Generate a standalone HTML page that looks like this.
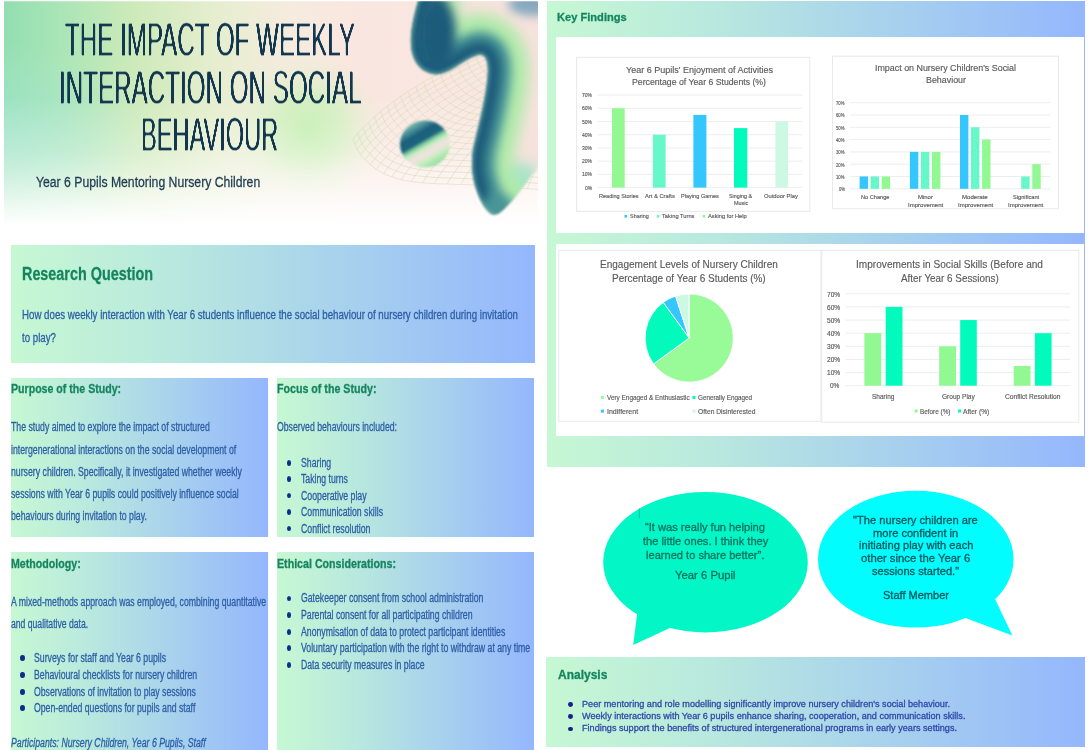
<!DOCTYPE html>
<html lang="en"><head><meta charset="utf-8"><title>The Impact of Weekly Interaction on Social Behaviour</title>
<style>
html,body{margin:0;padding:0;background:#fff}
body{width:1089px;height:750px;position:relative;overflow:hidden;font-family:"Liberation Sans",sans-serif}
.t{position:absolute;white-space:nowrap;transform-origin:0 0;line-height:1;margin:0;display:block}
.title{letter-spacing:0}
.t{-webkit-text-stroke:.3px currentColor;filter:blur(.3px)}
.title{-webkit-text-stroke:0;filter:none;text-shadow:.7px 0 0 currentColor,-.7px 0 0 currentColor}
.ct{filter:blur(.35px);-webkit-text-stroke:.15px currentColor}
.box{position:absolute;background:linear-gradient(90deg,#c6f8d3 0%,#b9e9de 30%,#a7d0ee 65%,#94b7fd 100%)}
.white{position:absolute;background:#fff}
.bu{position:absolute;width:4.6px;height:5.8px;border-radius:50%;background:#0b2f8f;display:block}
svg{position:absolute;left:0;top:0;overflow:visible}
</style></head><body>
<svg width="1089" height="750" viewBox="0 0 1089 750">
<defs>
<clipPath id="hc"><rect x="3.6" y="1.2" width="534.4" height="233"/></clipPath>
<linearGradient id="hg" x1="4" y1="0" x2="538" y2="0" gradientUnits="userSpaceOnUse">
<stop offset="0" stop-color="#92deb0"/><stop offset=".10" stop-color="#a8e5b6"/><stop offset=".24" stop-color="#cdeab9"/>
<stop offset=".40" stop-color="#e6eecf"/><stop offset=".54" stop-color="#f6ebdf"/><stop offset=".66" stop-color="#fae6e0"/><stop offset="1" stop-color="#fbe7e2"/></linearGradient>
<linearGradient id="hf" x1="0" y1="0" x2="0" y2="232" gradientUnits="userSpaceOnUse">
<stop offset="0" stop-color="#fff" stop-opacity="0"/><stop offset=".42" stop-color="#fff" stop-opacity="0"/><stop offset=".66" stop-color="#fff" stop-opacity=".30"/>
<stop offset=".80" stop-color="#fff" stop-opacity=".60"/><stop offset=".91" stop-color="#fff" stop-opacity=".88"/><stop offset=".975" stop-color="#fff" stop-opacity="1"/></linearGradient>
<radialGradient id="mint" cx="0" cy="135" r="150" gradientUnits="userSpaceOnUse" gradientTransform="translate(0 135) scale(1 .62) translate(0 -135)">
<stop offset="0" stop-color="#a2e4d0" stop-opacity=".75"/><stop offset=".55" stop-color="#a8e6d0" stop-opacity=".4"/><stop offset="1" stop-color="#b5ead0" stop-opacity="0"/></radialGradient>
<radialGradient id="glow" cx="308" cy="132" r="78" gradientUnits="userSpaceOnUse">
<stop offset="0" stop-color="#c0eeae" stop-opacity="1"/><stop offset=".45" stop-color="#cbf0b8" stop-opacity=".75"/><stop offset="1" stop-color="#e0f2cc" stop-opacity="0"/></radialGradient>
<linearGradient id="sph" x1="412" y1="122" x2="438" y2="167" gradientUnits="userSpaceOnUse">
<stop offset="0" stop-color="#8cc6b6"/><stop offset=".13" stop-color="#4d959b"/><stop offset=".26" stop-color="#1d607c"/><stop offset=".41" stop-color="#1f647e"/>
<stop offset=".48" stop-color="#7fd0a0"/><stop offset=".55" stop-color="#c5edc0"/><stop offset=".65" stop-color="#f6e0e2"/><stop offset=".76" stop-color="#d3ecc9"/>
<stop offset=".88" stop-color="#a6e6a8"/><stop offset="1" stop-color="#8fd3b6"/></linearGradient>
<clipPath id="bc"><path d="M420,-6 C414,14 409,34 411.5,50 C414,65 424,74 437,74.3 C450,74 462,60 478,55 C487,53 489,65 487.3,78.4 C486,95 480,120 474.8,141 C471,155 470,175 478,194.4 C482,205 488,214 493.6,214.7 C500,215 504,209 509.3,203.8 C518,195 530,178 544,158 L544,-6 Z"/></clipPath>
<filter id="b7" filterUnits="userSpaceOnUse" x="360" y="-60" width="240" height="340"><feGaussianBlur stdDeviation="7"/></filter>
<filter id="b4" filterUnits="userSpaceOnUse" x="360" y="-60" width="240" height="340"><feGaussianBlur stdDeviation="4.6"/></filter>
<filter id="thin" filterUnits="userSpaceOnUse" x="0" y="0" width="545" height="170" color-interpolation-filters="sRGB">
<feGaussianBlur stdDeviation="0 0.85"/><feComponentTransfer><feFuncA type="linear" slope="2.6" intercept="-1.38"/></feComponentTransfer>
</filter>
<filter id="b2" filterUnits="userSpaceOnUse" x="360" y="-60" width="240" height="340"><feGaussianBlur stdDeviation="1.6"/></filter>
<filter id="b1" filterUnits="userSpaceOnUse" x="360" y="-60" width="240" height="340"><feGaussianBlur stdDeviation=".8"/></filter>
</defs>
<g clip-path="url(#hc)">
<rect x="4" y="0" width="535" height="234" fill="url(#hg)"/>
<rect x="4" y="0" width="535" height="234" fill="url(#mint)"/>
<rect x="4" y="0" width="535" height="234" fill="url(#glow)"/>
<rect x="4" y="0" width="535" height="234" fill="url(#hf)"/>
<path d="M353.0,139.0 L354.6,143.3 L356.3,147.6 L358.5,151.6 L361.2,155.3 L364.3,158.7 L367.5,162.0 L370.9,165.1 L374.5,167.9 L378.3,170.5 L382.3,172.8 L386.5,174.7 L390.7,176.4 L395.0,177.9 L399.4,179.2 L403.9,180.3 L408.4,181.1 L413.0,181.8 L417.5,182.3 L422.1,182.8 L426.7,183.1 L431.3,183.4 L435.8,183.7 L440.4,183.9 L445.0,184.0 L449.6,184.1 L454.2,184.3 L458.8,184.4 L463.4,184.6 L468.0,184.7 L472.6,185.0 L477.1,185.2 L481.7,185.5 L486.3,185.8 L490.9,186.1 L495.5,186.4 L500.0,186.7 L504.6,187.1 L509.2,187.4 L513.8,187.7 L518.4,188.0 L522.9,188.3 L527.5,188.7 L532.1,189.0 L536.7,189.3 L541.3,189.6 L545.9,189.9 L550.4,190.2 L555.0,190.5 L559.6,190.8 L564.2,191.1 L568.8,191.4 L573.3,191.7 L577.9,192.0 L582.5,192.2 L587.1,192.5 L591.7,192.8 L596.3,193.1 L600.8,193.4 L605.4,193.7 L610.0,194.0 M357.9,133.3 L359.4,137.6 L361.1,141.8 L363.3,145.8 L366.0,149.4 L369.0,152.8 L372.1,156.1 L375.5,159.1 L379.1,161.9 L382.8,164.5 L386.7,166.7 L390.8,168.7 L395.0,170.3 L399.3,171.9 L403.6,173.2 L408.0,174.2 L412.5,175.1 L417.0,175.7 L421.5,176.3 L426.0,176.7 L430.5,177.1 L435.0,177.4 L439.5,177.7 L444.1,177.9 L448.6,178.0 L453.1,178.1 L457.6,178.3 L462.2,178.4 L466.7,178.6 L471.2,178.8 L475.7,179.0 L480.3,179.3 L484.8,179.6 L489.3,179.9 L493.8,180.2 L498.3,180.5 L502.8,180.8 L507.4,181.1 L511.9,181.4 L516.4,181.8 L520.9,182.1 L525.4,182.4 L530.0,182.8 L534.5,183.1 L539.0,183.4 L543.5,183.7 L548.0,184.0 L552.5,184.3 L557.1,184.6 L561.6,184.9 L566.1,185.2 L570.6,185.5 L575.1,185.8 L579.7,186.1 L584.2,186.4 L588.7,186.7 L593.2,187.0 L597.7,187.3 L602.3,187.6 L606.8,187.9 L611.3,188.2 M363.1,127.7 L364.6,131.9 L366.2,136.1 L368.4,140.0 L371.0,143.6 L374.0,147.0 L377.1,150.3 L380.4,153.3 L383.9,156.0 L387.6,158.6 L391.5,160.8 L395.5,162.7 L399.7,164.4 L403.9,165.9 L408.2,167.2 L412.5,168.2 L416.9,169.1 L421.3,169.8 L425.7,170.3 L430.2,170.7 L434.6,171.1 L439.1,171.5 L443.5,171.7 L448.0,171.9 L452.5,172.1 L456.9,172.2 L461.4,172.3 L465.8,172.5 L470.3,172.7 L474.8,172.9 L479.2,173.1 L483.7,173.4 L488.1,173.7 L492.6,174.0 L497.0,174.3 L501.5,174.6 L505.9,174.9 L510.4,175.3 L514.8,175.6 L519.3,175.9 L523.8,176.3 L528.2,176.6 L532.7,176.9 L537.1,177.3 L541.6,177.6 L546.0,177.9 L550.5,178.2 L554.9,178.5 L559.4,178.8 L563.8,179.1 L568.3,179.4 L572.7,179.7 L577.2,180.0 L581.7,180.4 L586.1,180.7 L590.6,181.0 L595.0,181.3 L599.5,181.6 L603.9,181.9 L608.4,182.2 L612.8,182.5 M368.6,122.2 L370.1,126.4 L371.7,130.5 L373.8,134.4 L376.4,138.0 L379.3,141.3 L382.4,144.5 L385.6,147.5 L389.1,150.2 L392.8,152.8 L396.6,155.0 L400.5,156.9 L404.6,158.5 L408.8,160.0 L413.0,161.3 L417.3,162.4 L421.6,163.2 L425.9,163.9 L430.3,164.4 L434.7,164.9 L439.1,165.3 L443.4,165.6 L447.8,165.9 L452.2,166.1 L456.6,166.2 L461.0,166.4 L465.4,166.5 L469.8,166.7 L474.2,166.9 L478.6,167.1 L483.0,167.3 L487.4,167.6 L491.8,167.9 L496.2,168.2 L500.5,168.5 L504.9,168.9 L509.3,169.2 L513.7,169.5 L518.1,169.9 L522.5,170.2 L526.9,170.5 L531.2,170.9 L535.6,171.2 L540.0,171.5 L544.4,171.9 L548.8,172.2 L553.2,172.5 L557.6,172.8 L562.0,173.1 L566.3,173.4 L570.7,173.7 L575.1,174.1 L579.5,174.4 L583.9,174.7 L588.3,175.0 L592.7,175.3 L597.1,175.6 L601.4,175.9 L605.8,176.2 L610.2,176.5 L614.6,176.9 M374.5,116.8 L375.9,120.9 L377.5,125.0 L379.6,128.9 L382.2,132.4 L385.0,135.7 L388.0,138.9 L391.2,141.9 L394.6,144.5 L398.2,147.0 L401.9,149.3 L405.9,151.1 L409.9,152.8 L414.0,154.3 L418.1,155.5 L422.3,156.6 L426.6,157.4 L430.9,158.1 L435.2,158.7 L439.5,159.1 L443.8,159.5 L448.1,159.8 L452.4,160.1 L456.7,160.3 L461.1,160.5 L465.4,160.6 L469.7,160.8 L474.1,161.0 L478.4,161.1 L482.7,161.4 L487.0,161.6 L491.4,161.9 L495.7,162.2 L500.0,162.5 L504.3,162.8 L508.6,163.2 L512.9,163.5 L517.3,163.9 L521.6,164.2 L525.9,164.5 L530.2,164.9 L534.5,165.2 L538.9,165.6 L543.2,165.9 L547.5,166.2 L551.8,166.6 L556.1,166.9 L560.4,167.2 L564.8,167.5 L569.1,167.8 L573.4,168.1 L577.7,168.5 L582.0,168.8 L586.4,169.1 L590.7,169.4 L595.0,169.7 L599.3,170.0 L603.6,170.4 L608.0,170.7 L612.3,171.0 L616.6,171.3 M380.6,111.5 L382.1,115.6 L383.6,119.7 L385.6,123.5 L388.2,127.0 L391.0,130.2 L393.9,133.4 L397.1,136.3 L400.4,139.0 L403.9,141.4 L407.6,143.6 L411.5,145.5 L415.4,147.1 L419.5,148.6 L423.5,149.9 L427.7,150.9 L431.9,151.7 L436.1,152.4 L440.3,153.0 L444.5,153.4 L448.8,153.8 L453.0,154.2 L457.3,154.5 L461.5,154.7 L465.8,154.8 L470.1,155.0 L474.3,155.1 L478.6,155.3 L482.8,155.5 L487.1,155.7 L491.3,156.0 L495.6,156.3 L499.8,156.6 L504.1,156.9 L508.3,157.3 L512.6,157.6 L516.8,157.9 L521.1,158.3 L525.3,158.6 L529.6,159.0 L533.8,159.3 L538.1,159.7 L542.3,160.0 L546.6,160.3 L550.8,160.7 L555.1,161.0 L559.3,161.3 L563.6,161.7 L567.8,162.0 L572.1,162.3 L576.3,162.6 L580.6,163.0 L584.8,163.3 L589.1,163.6 L593.3,163.9 L597.6,164.2 L601.8,164.6 L606.1,164.9 L610.3,165.2 L614.6,165.5 L618.8,165.8 M387.1,106.3 L388.5,110.4 L390.0,114.4 L392.0,118.1 L394.5,121.6 L397.2,124.8 L400.1,127.9 L403.2,130.8 L406.5,133.5 L410.0,135.9 L413.6,138.1 L417.4,139.9 L421.3,141.5 L425.2,143.0 L429.2,144.3 L433.3,145.3 L437.4,146.1 L441.6,146.8 L445.7,147.4 L449.9,147.8 L454.1,148.2 L458.2,148.6 L462.4,148.9 L466.6,149.1 L470.8,149.3 L475.0,149.4 L479.1,149.6 L483.3,149.8 L487.5,150.0 L491.7,150.2 L495.9,150.5 L500.1,150.8 L504.2,151.1 L508.4,151.4 L512.6,151.7 L516.8,152.1 L521.0,152.4 L525.1,152.8 L529.3,153.1 L533.5,153.5 L537.7,153.8 L541.8,154.2 L546.0,154.5 L550.2,154.9 L554.4,155.2 L558.5,155.5 L562.7,155.9 L566.9,156.2 L571.1,156.5 L575.3,156.9 L579.4,157.2 L583.6,157.5 L587.8,157.8 L592.0,158.2 L596.1,158.5 L600.3,158.8 L604.5,159.1 L608.7,159.5 L612.9,159.8 L617.0,160.1 L621.2,160.4 M393.8,101.3 L395.2,105.2 L396.7,109.2 L398.6,112.9 L401.1,116.3 L403.8,119.5 L406.6,122.6 L409.6,125.5 L412.9,128.1 L416.3,130.5 L419.8,132.6 L423.6,134.4 L427.4,136.1 L431.2,137.5 L435.2,138.8 L439.2,139.8 L443.2,140.6 L447.3,141.3 L451.4,141.8 L455.5,142.3 L459.6,142.7 L463.7,143.1 L467.8,143.4 L471.9,143.6 L476.0,143.8 L480.1,143.9 L484.2,144.1 L488.3,144.3 L492.5,144.5 L496.6,144.7 L500.7,145.0 L504.8,145.3 L508.9,145.6 L513.0,146.0 L517.1,146.3 L521.2,146.7 L525.3,147.0 L529.4,147.4 L533.5,147.7 L537.6,148.1 L541.7,148.4 L545.8,148.8 L549.9,149.1 L554.0,149.5 L558.1,149.8 L562.2,150.2 L566.3,150.5 L570.4,150.8 L574.6,151.2 L578.7,151.5 L582.8,151.8 L586.9,152.2 L591.0,152.5 L595.1,152.8 L599.2,153.1 L603.3,153.5 L607.4,153.8 L611.5,154.1 L615.6,154.5 L619.7,154.8 L623.8,155.1 M400.9,96.3 L402.2,100.2 L403.6,104.1 L405.5,107.8 L407.9,111.1 L410.6,114.3 L413.3,117.3 L416.3,120.2 L419.5,122.7 L422.8,125.1 L426.3,127.3 L430.0,129.1 L433.7,130.6 L437.5,132.1 L441.4,133.3 L445.3,134.4 L449.3,135.2 L453.3,135.9 L457.3,136.4 L461.3,136.9 L465.3,137.3 L469.4,137.6 L473.4,137.9 L477.4,138.2 L481.5,138.4 L485.5,138.5 L489.6,138.7 L493.6,138.9 L497.6,139.1 L501.7,139.4 L505.7,139.6 L509.7,139.9 L513.8,140.3 L517.8,140.6 L521.8,140.9 L525.8,141.3 L529.9,141.6 L533.9,142.0 L537.9,142.4 L542.0,142.7 L546.0,143.1 L550.0,143.4 L554.0,143.8 L558.1,144.1 L562.1,144.5 L566.1,144.8 L570.2,145.2 L574.2,145.5 L578.2,145.9 L582.3,146.2 L586.3,146.5 L590.3,146.9 L594.3,147.2 L598.4,147.5 L602.4,147.9 L606.4,148.2 L610.5,148.5 L614.5,148.9 L618.5,149.2 L622.6,149.5 L626.6,149.9 M408.1,91.4 L409.4,95.2 L410.9,99.1 L412.7,102.7 L415.1,106.0 L417.6,109.2 L420.4,112.1 L423.3,114.9 L426.4,117.5 L429.7,119.8 L433.1,122.0 L436.7,123.7 L440.3,125.3 L444.1,126.7 L447.9,128.0 L451.7,129.0 L455.6,129.8 L459.5,130.5 L463.5,131.0 L467.4,131.5 L471.4,131.9 L475.3,132.3 L479.3,132.6 L483.2,132.8 L487.2,133.0 L491.1,133.2 L495.1,133.4 L499.1,133.6 L503.0,133.8 L507.0,134.0 L510.9,134.3 L514.9,134.6 L518.8,135.0 L522.8,135.3 L526.8,135.7 L530.7,136.0 L534.7,136.4 L538.6,136.7 L542.6,137.1 L546.5,137.4 L550.5,137.8 L554.4,138.2 L558.4,138.5 L562.3,138.9 L566.3,139.2 L570.2,139.6 L574.2,139.9 L578.1,140.3 L582.1,140.6 L586.0,141.0 L590.0,141.3 L593.9,141.6 L597.9,142.0 L601.9,142.3 L605.8,142.7 L609.8,143.0 L613.7,143.3 L617.7,143.7 L621.6,144.0 L625.6,144.3 L629.5,144.7 M415.7,86.5 L417.0,90.4 L418.3,94.2 L420.2,97.7 L422.4,101.0 L425.0,104.1 L427.6,107.0 L430.5,109.8 L433.6,112.3 L436.7,114.6 L440.1,116.7 L443.6,118.5 L447.2,120.1 L450.9,121.5 L454.6,122.7 L458.4,123.7 L462.2,124.5 L466.0,125.2 L469.9,125.7 L473.7,126.2 L477.6,126.6 L481.5,127.0 L485.4,127.3 L489.2,127.5 L493.1,127.7 L497.0,127.9 L500.9,128.1 L504.8,128.3 L508.6,128.5 L512.5,128.8 L516.4,129.1 L520.3,129.4 L524.2,129.7 L528.0,130.1 L531.9,130.4 L535.8,130.8 L539.6,131.1 L543.5,131.5 L547.4,131.9 L551.3,132.2 L555.1,132.6 L559.0,133.0 L562.9,133.3 L566.8,133.7 L570.6,134.0 L574.5,134.4 L578.4,134.7 L582.3,135.1 L586.1,135.4 L590.0,135.8 L593.9,136.1 L597.8,136.5 L601.6,136.8 L605.5,137.2 L609.4,137.5 L613.3,137.8 L617.1,138.2 L621.0,138.5 L624.9,138.9 L628.8,139.2 L632.6,139.5 M423.5,81.8 L424.7,85.6 L426.1,89.3 L427.9,92.8 L430.1,96.1 L432.5,99.1 L435.2,102.0 L438.0,104.7 L440.9,107.2 L444.1,109.5 L447.3,111.6 L450.8,113.3 L454.3,114.9 L457.9,116.2 L461.5,117.5 L465.2,118.5 L469.0,119.3 L472.7,119.9 L476.5,120.5 L480.3,121.0 L484.1,121.4 L487.9,121.7 L491.7,122.1 L495.5,122.3 L499.3,122.5 L503.1,122.7 L506.9,122.9 L510.7,123.1 L514.5,123.4 L518.3,123.6 L522.1,123.9 L525.9,124.2 L529.7,124.6 L533.5,124.9 L537.3,125.3 L541.0,125.6 L544.8,126.0 L548.6,126.4 L552.4,126.7 L556.2,127.1 L560.0,127.5 L563.8,127.8 L567.6,128.2 L571.4,128.6 L575.2,128.9 L579.0,129.3 L582.8,129.6 L586.6,130.0 L590.4,130.3 L594.2,130.7 L598.0,131.0 L601.8,131.4 L605.6,131.7 L609.3,132.1 L613.1,132.4 L616.9,132.7 L620.7,133.1 L624.5,133.4 L628.3,133.8 L632.1,134.1 L635.9,134.5 M431.6,77.1 L432.8,80.8 L434.1,84.5 L435.8,88.0 L438.0,91.2 L440.4,94.2 L442.9,97.0 L445.7,99.7 L448.6,102.2 L451.6,104.4 L454.8,106.5 L458.2,108.2 L461.7,109.7 L465.2,111.1 L468.7,112.3 L472.3,113.3 L476.0,114.1 L479.7,114.8 L483.4,115.3 L487.1,115.8 L490.8,116.2 L494.5,116.6 L498.2,116.9 L501.9,117.2 L505.6,117.4 L509.4,117.6 L513.1,117.8 L516.8,118.0 L520.5,118.2 L524.2,118.5 L528.0,118.8 L531.7,119.1 L535.4,119.4 L539.1,119.8 L542.8,120.2 L546.5,120.5 L550.2,120.9 L553.9,121.3 L557.7,121.6 L561.4,122.0 L565.1,122.4 L568.8,122.7 L572.5,123.1 L576.2,123.5 L579.9,123.8 L583.6,124.2 L587.4,124.5 L591.1,124.9 L594.8,125.3 L598.5,125.6 L602.2,126.0 L605.9,126.3 L609.6,126.7 L613.3,127.0 L617.1,127.4 L620.8,127.7 L624.5,128.1 L628.2,128.4 L631.9,128.7 L635.6,129.1 L639.3,129.4 M439.9,72.5 L441.1,76.2 L442.3,79.8 L444.0,83.2 L446.1,86.4 L448.5,89.3 L451.0,92.1 L453.6,94.8 L456.5,97.2 L459.5,99.4 L462.6,101.4 L465.9,103.1 L469.2,104.6 L472.7,106.0 L476.1,107.2 L479.7,108.2 L483.2,109.0 L486.8,109.6 L490.5,110.2 L494.1,110.7 L497.7,111.1 L501.3,111.5 L505.0,111.8 L508.6,112.1 L512.2,112.3 L515.9,112.5 L519.5,112.7 L523.1,112.9 L526.8,113.1 L530.4,113.4 L534.0,113.7 L537.7,114.0 L541.3,114.4 L544.9,114.7 L548.6,115.1 L552.2,115.5 L555.8,115.8 L559.4,116.2 L563.1,116.6 L566.7,117.0 L570.3,117.3 L574.0,117.7 L577.6,118.1 L581.2,118.4 L584.8,118.8 L588.5,119.2 L592.1,119.5 L595.7,119.9 L599.4,120.2 L603.0,120.6 L606.6,120.9 L610.3,121.3 L613.9,121.7 L617.5,122.0 L621.1,122.4 L624.8,122.7 L628.4,123.1 L632.0,123.4 L635.7,123.8 L639.3,124.1 L642.9,124.5 M448.5,68.0 L449.6,71.6 L450.8,75.1 L452.4,78.5 L454.5,81.6 L456.8,84.5 L459.2,87.3 L461.8,89.9 L464.6,92.3 L467.5,94.5 L470.6,96.4 L473.8,98.1 L477.1,99.6 L480.4,101.0 L483.8,102.1 L487.2,103.1 L490.7,103.9 L494.2,104.6 L497.8,105.1 L501.3,105.6 L504.8,106.0 L508.4,106.4 L511.9,106.7 L515.5,107.0 L519.0,107.2 L522.6,107.4 L526.1,107.6 L529.7,107.9 L533.2,108.1 L536.8,108.4 L540.3,108.7 L543.9,109.0 L547.4,109.4 L551.0,109.7 L554.5,110.1 L558.1,110.5 L561.6,110.8 L565.1,111.2 L568.7,111.6 L572.2,112.0 L575.8,112.3 L579.3,112.7 L582.9,113.1 L586.4,113.5 L589.9,113.8 L593.5,114.2 L597.0,114.5 L600.6,114.9 L604.1,115.3 L607.7,115.6 L611.2,116.0 L614.7,116.3 L618.3,116.7 L621.8,117.0 L625.4,117.4 L628.9,117.8 L632.5,118.1 L636.0,118.5 L639.6,118.8 L643.1,119.2 L646.6,119.5 M457.3,63.5 L458.4,67.0 L459.6,70.5 L461.1,73.9 L463.1,76.9 L465.4,79.8 L467.7,82.5 L470.3,85.1 L473.0,87.4 L475.8,89.6 L478.8,91.5 L481.9,93.2 L485.1,94.6 L488.4,96.0 L491.7,97.1 L495.0,98.1 L498.4,98.9 L501.9,99.5 L505.3,100.1 L508.8,100.6 L512.2,101.0 L515.7,101.4 L519.1,101.7 L522.6,102.0 L526.1,102.2 L529.5,102.4 L533.0,102.6 L536.4,102.9 L539.9,103.1 L543.4,103.4 L546.8,103.7 L550.3,104.0 L553.7,104.4 L557.2,104.7 L560.7,105.1 L564.1,105.5 L567.6,105.9 L571.0,106.2 L574.5,106.6 L577.9,107.0 L581.4,107.4 L584.8,107.8 L588.3,108.1 L591.8,108.5 L595.2,108.9 L598.7,109.2 L602.1,109.6 L605.6,110.0 L609.0,110.3 L612.5,110.7 L615.9,111.1 L619.4,111.4 L622.9,111.8 L626.3,112.1 L629.8,112.5 L633.2,112.8 L636.7,113.2 L640.1,113.6 L643.6,113.9 L647.1,114.3 L650.5,114.6 M466.4,59.1 L467.4,62.6 L468.6,66.0 L470.1,69.3 L472.0,72.2 L474.2,75.1 L476.5,77.7 L478.9,80.3 L481.6,82.6 L484.3,84.7 L487.2,86.6 L490.3,88.3 L493.4,89.7 L496.6,91.0 L499.8,92.2 L503.1,93.1 L506.4,93.9 L509.7,94.6 L513.1,95.1 L516.4,95.6 L519.8,96.0 L523.2,96.4 L526.5,96.7 L529.9,97.0 L533.3,97.2 L536.7,97.5 L540.0,97.7 L543.4,97.9 L546.8,98.2 L550.1,98.5 L553.5,98.8 L556.9,99.1 L560.3,99.5 L563.6,99.8 L567.0,100.2 L570.4,100.6 L573.7,100.9 L577.1,101.3 L580.5,101.7 L583.8,102.1 L587.2,102.5 L590.6,102.8 L593.9,103.2 L597.3,103.6 L600.7,104.0 L604.0,104.3 L607.4,104.7 L610.8,105.1 L614.1,105.4 L617.5,105.8 L620.9,106.2 L624.2,106.5 L627.6,106.9 L631.0,107.2 L634.3,107.6 L637.7,108.0 L641.1,108.3 L644.4,108.7 L647.8,109.1 L651.2,109.4 L654.5,109.8 M475.7,54.7 L476.7,58.1 L477.8,61.5 L479.3,64.7 L481.2,67.6 L483.3,70.4 L485.5,73.1 L487.9,75.5 L490.4,77.8 L493.1,79.9 L495.9,81.8 L498.9,83.4 L501.9,84.8 L505.0,86.1 L508.1,87.2 L511.3,88.2 L514.6,89.0 L517.8,89.6 L521.1,90.2 L524.3,90.6 L527.6,91.1 L530.9,91.4 L534.2,91.8 L537.4,92.1 L540.7,92.3 L544.0,92.5 L547.3,92.8 L550.6,93.0 L553.8,93.3 L557.1,93.6 L560.4,93.9 L563.7,94.2 L567.0,94.6 L570.2,94.9 L573.5,95.3 L576.8,95.7 L580.1,96.1 L583.3,96.4 L586.6,96.8 L589.9,97.2 L593.2,97.6 L596.4,98.0 L599.7,98.4 L603.0,98.7 L606.3,99.1 L609.5,99.5 L612.8,99.8 L616.1,100.2 L619.4,100.6 L622.7,100.9 L625.9,101.3 L629.2,101.7 L632.5,102.0 L635.8,102.4 L639.0,102.8 L642.3,103.1 L645.6,103.5 L648.9,103.9 L652.1,104.2 L655.4,104.6 L658.7,104.9 M485.3,50.4 L486.2,53.8 L487.3,57.1 L488.7,60.2 L490.5,63.1 L492.6,65.8 L494.7,68.4 L497.0,70.8 L499.5,73.1 L502.1,75.1 L504.8,77.0 L507.7,78.6 L510.7,80.0 L513.7,81.2 L516.7,82.4 L519.8,83.3 L522.9,84.1 L526.1,84.7 L529.3,85.3 L532.4,85.7 L535.6,86.2 L538.8,86.5 L542.0,86.9 L545.2,87.2 L548.4,87.4 L551.6,87.7 L554.7,87.9 L557.9,88.1 L561.1,88.4 L564.3,88.7 L567.5,89.0 L570.7,89.4 L573.9,89.7 L577.0,90.1 L580.2,90.4 L583.4,90.8 L586.6,91.2 L589.8,91.6 L593.0,92.0 L596.1,92.4 L599.3,92.7 L602.5,93.1 L605.7,93.5 L608.9,93.9 L612.1,94.3 L615.2,94.6 L618.4,95.0 L621.6,95.4 L624.8,95.8 L628.0,96.1 L631.2,96.5 L634.3,96.9 L637.5,97.2 L640.7,97.6 L643.9,97.9 L647.1,98.3 L650.3,98.7 L653.4,99.0 L656.6,99.4 L659.8,99.8 L663.0,100.1 M495.1,46.2 L496.0,49.5 L497.0,52.7 L498.4,55.8 L500.2,58.6 L502.1,61.2 L504.2,63.8 L506.4,66.2 L508.8,68.4 L511.4,70.4 L514.0,72.2 L516.8,73.8 L519.7,75.2 L522.6,76.4 L525.5,77.5 L528.5,78.4 L531.6,79.2 L534.6,79.8 L537.7,80.4 L540.8,80.9 L543.9,81.3 L546.9,81.7 L550.0,82.0 L553.1,82.3 L556.2,82.6 L559.3,82.8 L562.4,83.0 L565.5,83.3 L568.6,83.6 L571.7,83.9 L574.8,84.2 L577.9,84.5 L581.0,84.9 L584.1,85.2 L587.1,85.6 L590.2,86.0 L593.3,86.4 L596.4,86.8 L599.5,87.2 L602.6,87.5 L605.7,87.9 L608.8,88.3 L611.8,88.7 L614.9,89.1 L618.0,89.5 L621.1,89.8 L624.2,90.2 L627.3,90.6 L630.4,91.0 L633.5,91.3 L636.5,91.7 L639.6,92.1 L642.7,92.4 L645.8,92.8 L648.9,93.2 L652.0,93.5 L655.1,93.9 L658.2,94.3 L661.3,94.6 L664.3,95.0 L667.4,95.4 M505.2,42.0 L506.1,45.2 L507.0,48.4 L508.3,51.4 L510.0,54.1 L511.9,56.7 L513.9,59.2 L516.1,61.6 L518.4,63.7 L520.8,65.7 L523.4,67.5 L526.1,69.0 L528.9,70.4 L531.7,71.6 L534.6,72.7 L537.5,73.6 L540.4,74.4 L543.4,75.0 L546.3,75.6 L549.3,76.0 L552.3,76.4 L555.3,76.8 L558.3,77.2 L561.3,77.5 L564.3,77.7 L567.3,78.0 L570.3,78.2 L573.3,78.5 L576.3,78.7 L579.3,79.0 L582.3,79.4 L585.3,79.7 L588.3,80.1 L591.2,80.4 L594.2,80.8 L597.2,81.2 L600.2,81.6 L603.2,82.0 L606.2,82.4 L609.2,82.8 L612.2,83.1 L615.2,83.5 L618.2,83.9 L621.2,84.3 L624.1,84.7 L627.1,85.1 L630.1,85.4 L633.1,85.8 L636.1,86.2 L639.1,86.5 L642.1,86.9 L645.1,87.3 L648.1,87.7 L651.1,88.0 L654.1,88.4 L657.1,88.8 L660.0,89.1 L663.0,89.5 L666.0,89.9 L669.0,90.2 L672.0,90.6 M353.0,139.0 L356.0,135.4 L359.1,131.9 L362.3,128.5 L365.6,125.1 L369.0,121.9 L372.4,118.7 L375.9,115.6 L379.4,112.5 L383.1,109.5 L386.7,106.6 L390.4,103.8 L394.2,101.0 L398.0,98.2 L401.9,95.6 L405.7,92.9 L409.7,90.4 L413.6,87.8 L417.6,85.4 L421.6,82.9 L425.6,80.5 L429.7,78.2 L433.7,75.9 L437.8,73.6 L442.0,71.4 L446.1,69.2 L450.3,67.1 L454.4,64.9 L458.6,62.8 L462.9,60.8 L467.1,58.8 L471.3,56.8 L475.6,54.8 L479.8,52.9 L484.1,50.9 L488.4,49.1 L492.7,47.2 L497.0,45.4 L501.3,43.6 L505.7,41.8 L510.0,40.0 M354.8,144.1 L357.8,140.4 L360.9,136.9 L364.1,133.5 L367.4,130.1 L370.7,126.8 L374.1,123.6 L377.6,120.4 L381.1,117.3 L384.7,114.3 L388.4,111.4 L392.1,108.5 L395.8,105.7 L399.6,102.9 L403.4,100.2 L407.3,97.5 L411.2,94.9 L415.1,92.4 L419.0,89.9 L423.0,87.4 L427.0,85.0 L431.1,82.6 L435.1,80.3 L439.2,78.0 L443.3,75.7 L447.4,73.5 L451.6,71.3 L455.7,69.1 L459.9,67.0 L464.1,64.9 L468.3,62.8 L472.5,60.8 L476.7,58.8 L481.0,56.8 L485.2,54.9 L489.5,53.0 L493.8,51.1 L498.1,49.2 L502.4,47.4 L506.7,45.5 L511.0,43.7 M357.2,149.4 L360.1,145.7 L363.2,142.2 L366.3,138.7 L369.6,135.3 L372.9,131.9 L376.3,128.7 L379.7,125.5 L383.3,122.4 L386.8,119.3 L390.4,116.4 L394.1,113.5 L397.8,110.6 L401.6,107.8 L405.4,105.0 L409.2,102.4 L413.1,99.7 L417.0,97.1 L420.9,94.6 L424.9,92.1 L428.9,89.6 L432.9,87.2 L436.9,84.8 L441.0,82.5 L445.0,80.2 L449.1,77.9 L453.2,75.7 L457.4,73.5 L461.5,71.4 L465.7,69.2 L469.8,67.1 L474.0,65.1 L478.2,63.0 L482.4,61.0 L486.7,59.0 L490.9,57.1 L495.2,55.2 L499.4,53.3 L503.7,51.4 L508.0,49.5 L512.3,47.7 M360.7,154.6 L363.6,150.9 L366.6,147.3 L369.7,143.7 L372.9,140.3 L376.2,136.9 L379.6,133.7 L383.0,130.4 L386.5,127.3 L390.0,124.2 L393.6,121.2 L397.2,118.3 L400.9,115.4 L404.6,112.5 L408.4,109.8 L412.2,107.0 L416.0,104.4 L419.9,101.7 L423.8,99.2 L427.7,96.6 L431.7,94.1 L435.6,91.7 L439.6,89.3 L443.7,86.9 L447.7,84.6 L451.7,82.3 L455.8,80.0 L459.9,77.8 L464.0,75.6 L468.2,73.5 L472.3,71.3 L476.4,69.2 L480.6,67.1 L484.8,65.1 L489.0,63.1 L493.2,61.1 L497.4,59.1 L501.6,57.2 L505.9,55.3 L510.1,53.4 L514.4,51.5 M365.1,159.6 L368.0,155.9 L371.0,152.2 L374.0,148.7 L377.2,145.2 L380.4,141.8 L383.8,138.5 L387.1,135.3 L390.6,132.1 L394.1,129.0 L397.6,126.0 L401.2,123.0 L404.8,120.1 L408.5,117.2 L412.2,114.4 L416.0,111.6 L419.8,108.9 L423.6,106.3 L427.5,103.7 L431.3,101.1 L435.3,98.6 L439.2,96.1 L443.1,93.6 L447.1,91.2 L451.1,88.9 L455.1,86.6 L459.1,84.3 L463.2,82.0 L467.3,79.8 L471.3,77.6 L475.4,75.4 L479.6,73.3 L483.7,71.2 L487.8,69.1 L492.0,67.1 L496.1,65.0 L500.3,63.0 L504.5,61.1 L508.7,59.1 L512.9,57.2 L517.1,55.3 M370.3,164.6 L373.1,160.8 L376.1,157.2 L379.1,153.6 L382.2,150.1 L385.4,146.7 L388.7,143.3 L392.0,140.1 L395.4,136.9 L398.8,133.7 L402.3,130.7 L405.9,127.7 L409.5,124.7 L413.1,121.8 L416.8,119.0 L420.5,116.2 L424.2,113.4 L428.0,110.8 L431.8,108.1 L435.6,105.5 L439.5,103.0 L443.4,100.5 L447.3,98.0 L451.2,95.5 L455.1,93.2 L459.1,90.8 L463.1,88.5 L467.1,86.2 L471.1,83.9 L475.1,81.7 L479.2,79.5 L483.2,77.3 L487.3,75.2 L491.4,73.1 L495.5,71.0 L499.6,69.0 L503.7,66.9 L507.9,64.9 L512.0,62.9 L516.1,61.0 L520.3,59.0 M376.5,169.2 L379.3,165.5 L382.1,161.8 L385.1,158.2 L388.2,154.7 L391.3,151.2 L394.5,147.8 L397.8,144.5 L401.1,141.3 L404.5,138.2 L408.0,135.1 L411.5,132.0 L415.0,129.0 L418.6,126.1 L422.2,123.3 L425.8,120.4 L429.5,117.7 L433.2,115.0 L437.0,112.3 L440.7,109.7 L444.5,107.1 L448.4,104.5 L452.2,102.0 L456.1,99.6 L460.0,97.2 L463.9,94.8 L467.8,92.4 L471.7,90.1 L475.7,87.8 L479.7,85.6 L483.6,83.3 L487.7,81.1 L491.7,79.0 L495.7,76.8 L499.7,74.7 L503.8,72.6 L507.9,70.6 L511.9,68.5 L516.0,66.5 L520.1,64.5 L524.2,62.6 M383.7,173.4 L386.4,169.7 L389.2,166.0 L392.1,162.3 L395.1,158.8 L398.2,155.3 L401.3,151.9 L404.5,148.6 L407.8,145.4 L411.1,142.2 L414.5,139.0 L417.9,136.0 L421.4,133.0 L424.9,130.0 L428.5,127.2 L432.0,124.3 L435.7,121.5 L439.3,118.8 L443.0,116.1 L446.7,113.4 L450.4,110.8 L454.2,108.3 L458.0,105.7 L461.8,103.3 L465.6,100.8 L469.4,98.4 L473.3,96.0 L477.2,93.7 L481.0,91.4 L484.9,89.1 L488.9,86.8 L492.8,84.6 L496.8,82.4 L500.7,80.3 L504.7,78.1 L508.7,76.0 L512.7,73.9 L516.7,71.9 L520.7,69.8 L524.7,67.8 L528.8,65.8 M391.9,176.8 L394.6,173.0 L397.3,169.3 L400.2,165.7 L403.1,162.1 L406.1,158.6 L409.2,155.2 L412.3,151.9 L415.5,148.6 L418.8,145.4 L422.1,142.3 L425.4,139.2 L428.8,136.2 L432.2,133.2 L435.7,130.3 L439.2,127.5 L442.8,124.7 L446.3,121.9 L449.9,119.2 L453.6,116.5 L457.2,113.9 L460.9,111.3 L464.6,108.8 L468.3,106.3 L472.1,103.8 L475.9,101.4 L479.6,99.0 L483.4,96.6 L487.2,94.3 L491.1,92.0 L494.9,89.7 L498.8,87.5 L502.7,85.3 L506.5,83.1 L510.4,80.9 L514.3,78.8 L518.3,76.7 L522.2,74.6 L526.1,72.6 L530.1,70.5 L534.0,68.5 M401.2,179.7 L403.7,175.8 L406.4,172.1 L409.2,168.5 L412.0,164.9 L414.9,161.4 L417.9,158.0 L421.0,154.6 L424.1,151.4 L427.2,148.1 L430.5,145.0 L433.7,141.9 L437.0,138.9 L440.4,135.9 L443.8,133.0 L447.2,130.1 L450.7,127.3 L454.2,124.5 L457.7,121.8 L461.2,119.1 L464.8,116.5 L468.4,113.9 L472.0,111.4 L475.7,108.8 L479.3,106.4 L483.0,103.9 L486.7,101.5 L490.4,99.1 L494.2,96.8 L497.9,94.5 L501.7,92.2 L505.4,89.9 L509.2,87.7 L513.0,85.5 L516.8,83.3 L520.7,81.2 L524.5,79.1 L528.3,77.0 L532.2,74.9 L536.1,72.9 L539.9,70.8 M411.3,181.6 L413.8,177.7 L416.4,174.0 L419.1,170.4 L421.8,166.8 L424.6,163.3 L427.5,159.9 L430.5,156.5 L433.5,153.3 L436.6,150.0 L439.7,146.9 L442.9,143.8 L446.1,140.8 L449.4,137.8 L452.7,134.9 L456.0,132.0 L459.4,129.2 L462.8,126.4 L466.2,123.7 L469.7,121.0 L473.2,118.3 L476.7,115.7 L480.2,113.2 L483.8,110.7 L487.3,108.2 L490.9,105.7 L494.5,103.3 L498.1,100.9 L501.8,98.6 L505.4,96.3 L509.1,94.0 L512.8,91.7 L516.5,89.5 L520.2,87.3 L523.9,85.1 L527.7,82.9 L531.4,80.8 L535.2,78.7 L538.9,76.6 L542.7,74.6 L546.5,72.5 M422.4,182.8 L424.8,179.0 L427.3,175.2 L429.8,171.6 L432.5,168.0 L435.2,164.6 L438.0,161.1 L440.9,157.8 L443.8,154.5 L446.8,151.3 L449.8,148.2 L452.9,145.1 L456.0,142.0 L459.2,139.1 L462.4,136.1 L465.6,133.3 L468.9,130.4 L472.2,127.7 L475.5,124.9 L478.9,122.3 L482.3,119.6 L485.7,117.0 L489.1,114.5 L492.6,111.9 L496.0,109.5 L499.5,107.0 L503.0,104.6 L506.6,102.2 L510.1,99.9 L513.7,97.5 L517.2,95.2 L520.8,93.0 L524.4,90.7 L528.0,88.5 L531.6,86.4 L535.3,84.2 L538.9,82.1 L542.6,80.0 L546.2,77.9 L549.9,75.8 L553.6,73.8 M434.3,183.6 L436.6,179.8 L439.0,176.1 L441.5,172.5 L444.0,168.9 L446.6,165.4 L449.3,162.0 L452.1,158.7 L454.9,155.4 L457.8,152.2 L460.7,149.1 L463.7,146.0 L466.7,143.0 L469.8,140.0 L472.9,137.1 L476.0,134.2 L479.2,131.4 L482.4,128.6 L485.6,125.9 L488.8,123.2 L492.1,120.6 L495.4,118.0 L498.7,115.4 L502.1,112.9 L505.4,110.4 L508.8,108.0 L512.2,105.6 L515.6,103.2 L519.1,100.9 L522.5,98.5 L526.0,96.3 L529.5,94.0 L532.9,91.8 L536.4,89.6 L540.0,87.4 L543.5,85.2 L547.0,83.1 L550.6,81.0 L554.1,78.9 L557.7,76.9 L561.3,74.8 M447.2,184.1 L449.3,180.3 L451.6,176.6 L454.0,173.0 L456.4,169.4 L458.9,166.0 L461.5,162.6 L464.2,159.2 L466.9,156.0 L469.6,152.8 L472.5,149.7 L475.3,146.6 L478.2,143.6 L481.2,140.6 L484.2,137.7 L487.2,134.8 L490.2,132.0 L493.3,129.3 L496.4,126.6 L499.5,123.9 L502.7,121.3 L505.9,118.7 L509.1,116.1 L512.3,113.6 L515.6,111.1 L518.8,108.7 L522.1,106.3 L525.4,103.9 L528.7,101.6 L532.1,99.3 L535.4,97.0 L538.8,94.7 L542.1,92.5 L545.5,90.3 L548.9,88.1 L552.3,86.0 L555.7,83.9 L559.2,81.8 L562.6,79.7 L566.1,77.6 L569.5,75.6 M461.0,184.5 L463.1,180.7 L465.2,177.0 L467.4,173.4 L469.8,169.9 L472.2,166.4 L474.6,163.0 L477.2,159.7 L479.7,156.5 L482.4,153.3 L485.1,150.2 L487.8,147.1 L490.6,144.1 L493.4,141.1 L496.3,138.2 L499.2,135.4 L502.1,132.6 L505.0,129.9 L508.0,127.2 L511.0,124.5 L514.1,121.9 L517.1,119.3 L520.2,116.8 L523.3,114.2 L526.4,111.8 L529.6,109.3 L532.8,106.9 L535.9,104.6 L539.1,102.2 L542.3,99.9 L545.5,97.7 L548.8,95.4 L552.0,93.2 L555.3,91.0 L558.6,88.8 L561.8,86.7 L565.1,84.6 L568.4,82.5 L571.8,80.4 L575.1,78.4 L578.4,76.4 M475.8,185.2 L477.8,181.4 L479.8,177.7 L481.9,174.1 L484.1,170.6 L486.4,167.2 L488.7,163.8 L491.1,160.5 L493.6,157.3 L496.1,154.1 L498.6,151.0 L501.2,147.9 L503.9,144.9 L506.6,142.0 L509.3,139.1 L512.1,136.3 L514.9,133.5 L517.7,130.7 L520.5,128.0 L523.4,125.4 L526.3,122.8 L529.2,120.2 L532.2,117.7 L535.2,115.2 L538.1,112.7 L541.2,110.3 L544.2,107.9 L547.2,105.5 L550.3,103.2 L553.3,100.9 L556.4,98.6 L559.5,96.4 L562.6,94.2 L565.8,92.0 L568.9,89.8 L572.1,87.7 L575.2,85.6 L578.4,83.5 L581.6,81.4 L584.8,79.4 L588.0,77.4 M491.8,186.2 L493.6,182.4 L495.5,178.8 L497.4,175.2 L499.5,171.7 L501.6,168.3 L503.8,164.9 L506.1,161.6 L508.4,158.4 L510.8,155.2 L513.2,152.1 L515.6,149.1 L518.2,146.1 L520.7,143.1 L523.3,140.3 L525.9,137.4 L528.6,134.7 L531.2,131.9 L533.9,129.2 L536.7,126.6 L539.4,124.0 L542.2,121.4 L545.0,118.9 L547.9,116.4 L550.7,113.9 L553.6,111.5 L556.4,109.1 L559.3,106.8 L562.3,104.5 L565.2,102.2 L568.1,99.9 L571.1,97.7 L574.1,95.5 L577.0,93.3 L580.0,91.1 L583.0,89.0 L586.0,86.9 L589.1,84.8 L592.1,82.7 L595.2,80.7 L598.2,78.7 M508.9,187.4 L510.6,183.6 L512.3,180.0 L514.1,176.4 L516.0,172.9 L518.0,169.5 L520.1,166.1 L522.2,162.9 L524.3,159.6 L526.6,156.5 L528.8,153.4 L531.1,150.4 L533.5,147.4 L535.9,144.5 L538.3,141.6 L540.8,138.8 L543.3,136.0 L545.8,133.3 L548.4,130.6 L550.9,127.9 L553.6,125.4 L556.2,122.8 L558.8,120.3 L561.5,117.8 L564.2,115.3 L566.9,112.9 L569.6,110.5 L572.4,108.2 L575.1,105.9 L577.9,103.6 L580.7,101.3 L583.5,99.1 L586.3,96.9 L589.1,94.7 L592.0,92.5 L594.8,90.4 L597.7,88.3 L600.6,86.2 L603.4,84.2 L606.3,82.1 L609.2,80.1 M527.3,188.6 L528.8,184.9 L530.4,181.3 L532.1,177.7 L533.8,174.3 L535.6,170.8 L537.5,167.5 L539.5,164.2 L541.5,161.0 L543.5,157.9 L545.6,154.8 L547.8,151.8 L550.0,148.8 L552.2,145.9 L554.5,143.0 L556.8,140.2 L559.1,137.5 L561.5,134.7 L563.9,132.1 L566.3,129.4 L568.7,126.8 L571.2,124.3 L573.7,121.8 L576.2,119.3 L578.7,116.8 L581.3,114.4 L583.8,112.1 L586.4,109.7 L589.0,107.4 L591.6,105.1 L594.2,102.8 L596.8,100.6 L599.5,98.4 L602.2,96.2 L604.8,94.1 L607.5,92.0 L610.2,89.9 L612.9,87.8 L615.6,85.7 L618.3,83.7 L621.1,81.7 M547.1,190.0 L548.5,186.3 L549.9,182.6 L551.4,179.1 L552.9,175.6 L554.6,172.2 L556.3,168.9 L558.1,165.7 L559.9,162.5 L561.8,159.3 L563.7,156.3 L565.7,153.3 L567.7,150.3 L569.8,147.4 L571.9,144.5 L574.0,141.7 L576.1,139.0 L578.3,136.3 L580.5,133.6 L582.8,131.0 L585.0,128.4 L587.3,125.8 L589.6,123.3 L592.0,120.8 L594.3,118.4 L596.7,116.0 L599.1,113.6 L601.5,111.3 L603.9,109.0 L606.3,106.7 L608.7,104.4 L611.2,102.2 L613.7,100.0 L616.1,97.9 L618.6,95.7 L621.1,93.6 L623.6,91.5 L626.2,89.4 L628.7,87.4 L631.2,85.3 L633.8,83.3 M568.4,191.3 L569.6,187.7 L570.8,184.1 L572.1,180.5 L573.5,177.1 L575.0,173.7 L576.5,170.4 L578.1,167.1 L579.7,164.0 L581.4,160.8 L583.1,157.8 L584.9,154.8 L586.8,151.8 L588.6,148.9 L590.5,146.1 L592.5,143.3 L594.4,140.6 L596.4,137.9 L598.5,135.2 L600.5,132.6 L602.6,130.0 L604.7,127.5 L606.8,125.0 L608.9,122.5 L611.1,120.1 L613.3,117.7 L615.4,115.3 L617.6,113.0 L619.9,110.7 L622.1,108.4 L624.4,106.1 L626.6,103.9 L628.9,101.7 L631.2,99.6 L633.5,97.4 L635.8,95.3 L638.1,93.2 L640.4,91.1 L642.8,89.1 L645.1,87.1 L647.5,85.0 M591.3,192.8 L592.3,189.1 L593.3,185.6 L594.4,182.1 L595.6,178.6 L596.9,175.3 L598.2,172.0 L599.6,168.7 L601.0,165.6 L602.5,162.5 L604.0,159.4 L605.6,156.4 L607.2,153.5 L608.9,150.6 L610.6,147.8 L612.3,145.0 L614.1,142.3 L615.9,139.6 L617.7,136.9 L619.6,134.3 L621.4,131.7 L623.3,129.2 L625.2,126.7 L627.2,124.3 L629.1,121.8 L631.1,119.4 L633.1,117.1 L635.1,114.7 L637.1,112.5 L639.1,110.2 L641.1,107.9 L643.2,105.7 L645.3,103.5 L647.4,101.4 L649.4,99.2 L651.5,97.1 L653.7,95.0 L655.8,93.0 L657.9,90.9 L660.1,88.9 L662.2,86.9" fill="none" stroke="#d3deb6" stroke-width=".8" opacity=".72"/>
<g filter="url(#b1)"><g clip-path="url(#bc)">
<rect x="400" y="-6" width="150" height="240" fill="#f7e2dd"/>
<ellipse cx="534" cy="4" rx="26" ry="12" fill="#86a9c0" filter="url(#b4)"/>
<ellipse cx="520" cy="192" rx="24" ry="30" fill="#a9e3cb" filter="url(#b7)"/>
<path d="M420,-6 C414,14 409,34 411.5,50 C414,65 424,74 437,74.3 C450,74 462,60 478,55 C487,53 489,65 487.3,78.4 C486,95 480,120 474.8,141 C471,155 470,175 478,194.4 C482,205 488,214 493.6,214.7" fill="none" stroke="#afeaa9" stroke-width="82" stroke-linejoin="round" stroke-linecap="round" filter="url(#b7)"/>
<path d="M420,-6 C414,14 409,34 411.5,50 C414,65 424,74 437,74.3 C450,74 462,60 478,55 C487,53 489,65 487.3,78.4 C486,95 480,120 474.8,141 C471,155 470,175 478,194.4 C482,205 488,214 493.6,214.7" fill="none" stroke="#4a9597" stroke-width="47" stroke-linejoin="round" stroke-linecap="round" filter="url(#b4)"/>
<path d="M420,-6 C414,14 409,34 411.5,50 C414,65 424,74 437,74.3 C450,74 462,60 478,55 C487,53 489,65 487.3,78.4 C486,95 480,120 474.8,141 C471,155 470,172 476,190" fill="none" stroke="#1b5c7a" stroke-width="27" stroke-linejoin="round" stroke-linecap="round" filter="url(#b4)"/>
<ellipse cx="437" cy="34" rx="19" ry="38" fill="#1b5c7a" filter="url(#b4)"/>
<path d="M420,-6 C414,14 409,34 411.5,50 C414,65 424,74 437,74.3 C450,74 462,60 478,55 C487,53 489,65 487.3,78.4 C486,95 480,120 474.8,141 C471,155 470,175 478,194.4 C482,205 488,214 493.6,214.7" fill="none" stroke="#6db0a8" stroke-width="5" opacity=".55" filter="url(#b2)"/>
</g></g>
<ellipse cx="425" cy="144" rx="25" ry="23.5" fill="url(#sph)" filter="url(#b1)"/>
</g>
</svg>
<div class="box" style="left:11px;top:245px;width:523.5px;height:117.6px"></div>
<div class="box" style="left:10.8px;top:378.2px;width:257.2px;height:158.4px"></div>
<div class="box" style="left:277.3px;top:378.2px;width:257px;height:158.4px"></div>
<div class="box" style="left:10.8px;top:552.4px;width:257.2px;height:200px"></div>
<div class="box" style="left:277.3px;top:552.4px;width:257px;height:200px"></div>
<div class="box" style="left:546.5px;top:1px;width:538.3px;height:466.2px"></div>
<div class="white" style="left:556.2px;top:37px;width:527.6px;height:195.8px"></div>
<div class="white" style="left:556.2px;top:243.6px;width:527.6px;height:192.4px"></div>
<div class="box" style="left:545.7px;top:657.1px;width:539.2px;height:89.5px"></div>
<svg width="1089" height="750" viewBox="0 0 1089 750" style="filter:blur(.3px)"><rect x="576.6" y="57.3" width="233.2" height="154.1" fill="none" stroke="#e9e9e9" stroke-width="1"/><line x1="597.9" x2="802.2" y1="187.60" y2="187.60" stroke="#e8e8e8" stroke-width=".8"/><line x1="597.9" x2="802.2" y1="174.38" y2="174.38" stroke="#e8e8e8" stroke-width=".8"/><line x1="597.9" x2="802.2" y1="161.16" y2="161.16" stroke="#e8e8e8" stroke-width=".8"/><line x1="597.9" x2="802.2" y1="147.94" y2="147.94" stroke="#e8e8e8" stroke-width=".8"/><line x1="597.9" x2="802.2" y1="134.72" y2="134.72" stroke="#e8e8e8" stroke-width=".8"/><line x1="597.9" x2="802.2" y1="121.50" y2="121.50" stroke="#e8e8e8" stroke-width=".8"/><line x1="597.9" x2="802.2" y1="108.28" y2="108.28" stroke="#e8e8e8" stroke-width=".8"/><line x1="597.9" x2="802.2" y1="95.06" y2="95.06" stroke="#e8e8e8" stroke-width=".8"/><rect x="612.0" y="108.28" width="12.7" height="79.32" fill="#92f892"/><rect x="652.9" y="134.72" width="12.7" height="52.88" fill="#66f8c8"/><rect x="693.4" y="114.89" width="13.0" height="72.71" fill="#33c7fe"/><rect x="734.0" y="128.11" width="13.3" height="59.49" fill="#02fbbd"/><rect x="775.4" y="121.50" width="12.7" height="66.10" fill="#cdf8e4"/><rect x="624.5" y="215.0" width="2.6" height="2.6" fill="#33c7fe"/><rect x="656.7" y="215.0" width="2.6" height="2.6" fill="#66f8c8"/><rect x="702.7" y="215.0" width="2.6" height="2.6" fill="#92f892"/><rect x="832.5" y="56.2" width="226.0" height="152.6" fill="none" stroke="#e9e9e9" stroke-width="1"/><line x1="850.1" x2="1050.3" y1="188.80" y2="188.80" stroke="#e8e8e8" stroke-width=".8"/><line x1="850.1" x2="1050.3" y1="176.50" y2="176.50" stroke="#e8e8e8" stroke-width=".8"/><line x1="850.1" x2="1050.3" y1="164.20" y2="164.20" stroke="#e8e8e8" stroke-width=".8"/><line x1="850.1" x2="1050.3" y1="151.90" y2="151.90" stroke="#e8e8e8" stroke-width=".8"/><line x1="850.1" x2="1050.3" y1="139.60" y2="139.60" stroke="#e8e8e8" stroke-width=".8"/><line x1="850.1" x2="1050.3" y1="127.30" y2="127.30" stroke="#e8e8e8" stroke-width=".8"/><line x1="850.1" x2="1050.3" y1="115.00" y2="115.00" stroke="#e8e8e8" stroke-width=".8"/><line x1="850.1" x2="1050.3" y1="102.70" y2="102.70" stroke="#e8e8e8" stroke-width=".8"/><rect x="859.6" y="176.50" width="8.4" height="12.30" fill="#33c7fe"/><rect x="870.6" y="176.50" width="8.4" height="12.30" fill="#66f8c8"/><rect x="881.7" y="176.50" width="8.4" height="12.30" fill="#92f892"/><rect x="909.9" y="151.90" width="8.4" height="36.90" fill="#33c7fe"/><rect x="920.9" y="151.90" width="8.4" height="36.90" fill="#66f8c8"/><rect x="932.0" y="151.90" width="8.4" height="36.90" fill="#92f892"/><rect x="960.0" y="115.00" width="8.4" height="73.80" fill="#33c7fe"/><rect x="971.0" y="127.30" width="8.4" height="61.50" fill="#66f8c8"/><rect x="982.1" y="139.60" width="8.4" height="49.20" fill="#92f892"/><rect x="1021.2" y="176.50" width="8.4" height="12.30" fill="#66f8c8"/><rect x="1032.3" y="164.20" width="8.4" height="24.60" fill="#92f892"/><rect x="558.8" y="250.3" width="262.2" height="171.0" fill="none" stroke="#e9e9e9" stroke-width="1"/><path d="M689.2,338 L689.20,293.90 A44.1,44.1 0 1 1 653.52,363.92 Z" fill="#98fb98" stroke="#fff" stroke-width=".9" stroke-linejoin="round"/><path d="M689.2,338 L653.52,363.92 A44.1,44.1 0 0 1 663.28,302.32 Z" fill="#02fbbd" stroke="#fff" stroke-width=".9" stroke-linejoin="round"/><path d="M689.2,338 L663.28,302.32 A44.1,44.1 0 0 1 675.57,296.06 Z" fill="#33c7fe" stroke="#fff" stroke-width=".9" stroke-linejoin="round"/><path d="M689.2,338 L675.57,296.06 A44.1,44.1 0 0 1 689.20,293.90 Z" fill="#cdf8e4" stroke="#fff" stroke-width=".9" stroke-linejoin="round"/><rect x="600.9" y="395.9" width="3" height="3" fill="#98fb98"/><rect x="692.5" y="395.9" width="3" height="3" fill="#02fbbd"/><rect x="600.9" y="409.6" width="3" height="3" fill="#33c7fe"/><rect x="692.5" y="409.6" width="3" height="3" fill="#cdf8e4"/><rect x="821.8" y="250.3" width="257.0" height="171.9" fill="none" stroke="#e9e9e9" stroke-width="1"/><line x1="845.4" x2="1070.2" y1="385.70" y2="385.70" stroke="#e8e8e8" stroke-width=".8"/><line x1="845.4" x2="1070.2" y1="372.57" y2="372.57" stroke="#e8e8e8" stroke-width=".8"/><line x1="845.4" x2="1070.2" y1="359.44" y2="359.44" stroke="#e8e8e8" stroke-width=".8"/><line x1="845.4" x2="1070.2" y1="346.31" y2="346.31" stroke="#e8e8e8" stroke-width=".8"/><line x1="845.4" x2="1070.2" y1="333.18" y2="333.18" stroke="#e8e8e8" stroke-width=".8"/><line x1="845.4" x2="1070.2" y1="320.05" y2="320.05" stroke="#e8e8e8" stroke-width=".8"/><line x1="845.4" x2="1070.2" y1="306.92" y2="306.92" stroke="#e8e8e8" stroke-width=".8"/><line x1="845.4" x2="1070.2" y1="293.79" y2="293.79" stroke="#e8e8e8" stroke-width=".8"/><rect x="864.4" y="333.18" width="16.8" height="52.52" fill="#92f892"/><rect x="885.7" y="306.92" width="16.8" height="78.78" fill="#02fbbd"/><rect x="939.2" y="346.31" width="16.8" height="39.39" fill="#92f892"/><rect x="960.2" y="320.05" width="16.6" height="65.65" fill="#02fbbd"/><rect x="1013.7" y="366.00" width="16.8" height="19.70" fill="#92f892"/><rect x="1034.9" y="333.18" width="16.7" height="52.52" fill="#02fbbd"/><rect x="914.7" y="409.5" width="3" height="3" fill="#92f892"/><rect x="958.1" y="409.5" width="3" height="3" fill="#02fbbd"/></svg>
<svg width="1089" height="750" viewBox="0 0 1089 750">
<g fill="#03f7c6"><ellipse cx="705.5" cy="562.2" rx="102.3" ry="70.2"/><path d="M637.3,612 L633.2,645.1 L672,627 Z"/></g>
<g fill="#01fdfd"><ellipse cx="915.8" cy="559.2" rx="97.8" ry="68.4"/><path d="M995,599 L1012.4,635.5 L963,617 Z"/></g>
<rect x="638.9" y="508.3" width=".8" height="10" fill="#0a9c86" opacity=".7"/>
</svg>
<i class="bu" style="left:286.9px;top:459.8px"></i><i class="bu" style="left:286.9px;top:476.3px"></i><i class="bu" style="left:286.9px;top:492.7px"></i><i class="bu" style="left:286.9px;top:509.1px"></i><i class="bu" style="left:286.9px;top:525.6px"></i><i class="bu" style="left:20.1px;top:655.4px"></i><i class="bu" style="left:20.1px;top:672.1px"></i><i class="bu" style="left:20.1px;top:688.8px"></i><i class="bu" style="left:20.1px;top:705.4px"></i><i class="bu" style="left:286.8px;top:595.5px"></i><i class="bu" style="left:286.8px;top:612.2px"></i><i class="bu" style="left:286.8px;top:628.8px"></i><i class="bu" style="left:286.8px;top:645.4px"></i><i class="bu" style="left:286.8px;top:662.0px"></i><i class="bu" style="left:567.9px;top:702.4px;width:4.8px;height:4.8px;background:#1c1c8c"></i><i class="bu" style="left:567.9px;top:714.4px;width:4.8px;height:4.8px;background:#1c1c8c"></i><i class="bu" style="left:567.9px;top:726.6px;width:4.8px;height:4.8px;background:#1c1c8c"></i>
<h1 id="titlewrap" style="position:absolute;left:0;top:0;width:545px;height:170px;margin:0;font-weight:normal;font-size:16px;filter:url(#thin)">
<span class="t title" style="left:64.8px;top:16.0px;font-size:47.6px;color:#13374f;transform:scaleX(0.5077)">THE IMPACT OF WEEKLY</span>
<span class="t title" style="left:58.6px;top:63.6px;font-size:47.6px;color:#13374f;transform:scaleX(0.5084)">INTERACTION ON SOCIAL</span>
<span class="t title" style="left:140.6px;top:111.0px;font-size:47.6px;color:#13374f;transform:scaleX(0.4956)">BEHAVIOUR</span>
</h1>
<span class="t" style="left:35.8px;top:174.4px;font-size:15.5px;color:#1f3a50;transform:scaleX(0.7878)">Year 6 Pupils Mentoring Nursery Children</span>
<h2 class="t" style="left:22.4px;top:265.0px;font-size:18.5px;color:#16855f;transform:scaleX(0.7769);font-weight:bold">Research Question</h2>
<span class="t" style="left:22.0px;top:308.9px;font-size:12.5px;color:#2c5ea6;transform:scaleX(0.7759)">How does weekly interaction with Year 6 students influence the social behaviour of nursery children during invitation</span>
<span class="t" style="left:22.0px;top:331.9px;font-size:12.5px;color:#2c5ea6;transform:scaleX(0.7759)">to play?</span>
<h2 class="t" style="left:10.8px;top:382.4px;font-size:13.2px;color:#16855f;transform:scaleX(0.8036);font-weight:bold">Purpose of the Study:</h2>
<span class="t" style="left:10.8px;top:421.2px;font-size:12px;color:#2c5ea6;transform:scaleX(0.7270)">The study aimed to explore the impact of structured</span>
<span class="t" style="left:10.8px;top:443.5px;font-size:12px;color:#2c5ea6;transform:scaleX(0.7260)">intergenerational interactions on the social development of</span>
<span class="t" style="left:10.8px;top:465.8px;font-size:12px;color:#2c5ea6;transform:scaleX(0.7278)">nursery children. Specifically, it investigated whether weekly</span>
<span class="t" style="left:10.8px;top:488.1px;font-size:12px;color:#2c5ea6;transform:scaleX(0.7266)">sessions with Year 6 pupils could positively influence social</span>
<span class="t" style="left:10.8px;top:510.3px;font-size:12px;color:#2c5ea6;transform:scaleX(0.7253)">behaviours during invitation to play.</span>
<h2 class="t" style="left:277.3px;top:382.4px;font-size:13.2px;color:#16855f;transform:scaleX(0.8083);font-weight:bold">Focus of the Study:</h2>
<span class="t" style="left:277.3px;top:421.2px;font-size:12px;color:#2c5ea6;transform:scaleX(0.7253)">Observed behaviours included:</span>
<span class="t" style="left:300.5px;top:456.7px;font-size:12px;color:#2c5ea6;transform:scaleX(0.7275)">Sharing</span>
<span class="t" style="left:300.5px;top:473.2px;font-size:12px;color:#2c5ea6;transform:scaleX(0.7233)">Taking turns</span>
<span class="t" style="left:300.5px;top:489.6px;font-size:12px;color:#2c5ea6;transform:scaleX(0.7284)">Cooperative play</span>
<span class="t" style="left:300.5px;top:506.0px;font-size:12px;color:#2c5ea6;transform:scaleX(0.7276)">Communication skills</span>
<span class="t" style="left:300.5px;top:522.5px;font-size:12px;color:#2c5ea6;transform:scaleX(0.7275)">Conflict resolution</span>
<h2 class="t" style="left:10.9px;top:557.2px;font-size:13.2px;color:#16855f;transform:scaleX(0.8064);font-weight:bold">Methodology:</h2>
<span class="t" style="left:10.9px;top:596.0px;font-size:12px;color:#2c5ea6;transform:scaleX(0.7243)">A mixed-methods approach was employed, combining quantitative</span>
<span class="t" style="left:10.9px;top:618.4px;font-size:12px;color:#2c5ea6;transform:scaleX(0.7177)">and qualitative data.</span>
<span class="t" style="left:34.2px;top:652.3px;font-size:12px;color:#2c5ea6;transform:scaleX(0.7262)">Surveys for staff and Year 6 pupils</span>
<span class="t" style="left:34.2px;top:669.0px;font-size:12px;color:#2c5ea6;transform:scaleX(0.7261)">Behavioural checklists for nursery children</span>
<span class="t" style="left:34.2px;top:685.7px;font-size:12px;color:#2c5ea6;transform:scaleX(0.7245)">Observations of invitation to play sessions</span>
<span class="t" style="left:34.2px;top:702.3px;font-size:12px;color:#2c5ea6;transform:scaleX(0.7246)">Open-ended questions for pupils and staff</span>
<span class="t" style="left:10.9px;top:736.8px;font-size:12px;color:#2c5ea6;transform:scaleX(0.7267);font-style:italic">Participants: Nursery Children, Year 6 Pupils, Staff</span>
<h2 class="t" style="left:277.3px;top:557.2px;font-size:13.2px;color:#16855f;transform:scaleX(0.8079);font-weight:bold">Ethical Considerations:</h2>
<span class="t" style="left:300.5px;top:592.4px;font-size:12px;color:#2c5ea6;transform:scaleX(0.7253)">Gatekeeper consent from school administration</span>
<span class="t" style="left:300.5px;top:609.1px;font-size:12px;color:#2c5ea6;transform:scaleX(0.7263)">Parental consent for all participating children</span>
<span class="t" style="left:300.5px;top:625.7px;font-size:12px;color:#2c5ea6;transform:scaleX(0.7258)">Anonymisation of data to protect participant identities</span>
<span class="t" style="left:300.5px;top:642.3px;font-size:12px;color:#2c5ea6;transform:scaleX(0.7265)">Voluntary participation with the right to withdraw at any time</span>
<span class="t" style="left:300.5px;top:658.9px;font-size:12px;color:#2c5ea6;transform:scaleX(0.7239)">Data security measures in place</span>
<h2 class="t" style="left:557.4px;top:11.6px;font-size:11px;color:#16855f;transform:scaleX(1.0092);font-weight:bold">Key Findings</h2>
<h2 class="t" style="left:558.0px;top:669.3px;font-size:12.2px;color:#16855f;transform:scaleX(0.9852);font-weight:bold">Analysis</h2>
<span class="t" style="left:581.9px;top:700.1px;font-size:9.3px;color:#3048a8;transform:scaleX(0.9803)">Peer mentoring and role modelling significantly improve nursery children&#x27;s social behaviour.</span>
<span class="t" style="left:581.9px;top:712.1px;font-size:9.3px;color:#3048a8;transform:scaleX(0.9792)">Weekly interactions with Year 6 pupils enhance sharing, cooperation, and communication skills.</span>
<span class="t" style="left:581.9px;top:724.1px;font-size:9.3px;color:#3048a8;transform:scaleX(0.9806)">Findings support the benefits of structured intergenerational programs in early years settings.</span>
<span class="t" style="left:645.2px;top:522.1px;font-size:11px;color:#08705f;transform:scaleX(1.0116)">“It was really fun helping</span>
<span class="t" style="left:642.6px;top:536.1px;font-size:11px;color:#08705f;transform:scaleX(1.0093)">the little ones. I think they</span>
<span class="t" style="left:646.1px;top:549.7px;font-size:11px;color:#08705f;transform:scaleX(1.0076)">learned to share better”.</span>
<span class="t" style="left:675.0px;top:569.9px;font-size:11px;color:#08705f;transform:scaleX(1.0268)">Year 6 Pupil</span>
<span class="t" style="left:853.3px;top:515.4px;font-size:11px;color:#07545a;transform:scaleX(1.0135)">&quot;The nursery children are</span>
<span class="t" style="left:873.1px;top:527.9px;font-size:11px;color:#07545a;transform:scaleX(1.0096)">more confident in</span>
<span class="t" style="left:858.5px;top:540.4px;font-size:11px;color:#07545a;transform:scaleX(1.0122)">initiating play with each</span>
<span class="t" style="left:861.1px;top:553.2px;font-size:11px;color:#07545a;transform:scaleX(1.0261)">other since the Year 6</span>
<span class="t" style="left:872.2px;top:566.1px;font-size:11px;color:#07545a;transform:scaleX(1.0075)">sessions started.&quot;</span>
<span class="t" style="left:882.7px;top:589.8px;font-size:11px;color:#07545a;transform:scaleX(1.0026)">Staff Member</span>
<span class="t ct" style="left:625.9px;top:66.1px;font-size:8.8px;color:#595959;transform:scaleX(1.0233)">Year 6 Pupils&#x27; Enjoyment of Activities</span>
<span class="t ct" style="left:632.4px;top:78.0px;font-size:8.8px;color:#595959;transform:scaleX(0.9892)">Percentage of Year 6 Students (%)</span>
<span class="t ct" style="left:584.6px;top:185.7px;font-size:5.6px;color:#595959;transform:scaleX(0.8896)">0%</span>
<span class="t ct" style="left:581.8px;top:172.4px;font-size:5.6px;color:#595959;transform:scaleX(0.8926)">10%</span>
<span class="t ct" style="left:581.8px;top:159.2px;font-size:5.6px;color:#595959;transform:scaleX(0.8926)">20%</span>
<span class="t ct" style="left:581.8px;top:146.0px;font-size:5.6px;color:#595959;transform:scaleX(0.8926)">30%</span>
<span class="t ct" style="left:581.8px;top:132.8px;font-size:5.6px;color:#595959;transform:scaleX(0.8926)">40%</span>
<span class="t ct" style="left:581.8px;top:119.6px;font-size:5.6px;color:#595959;transform:scaleX(0.8926)">50%</span>
<span class="t ct" style="left:581.8px;top:106.3px;font-size:5.6px;color:#595959;transform:scaleX(0.8926)">60%</span>
<span class="t ct" style="left:581.8px;top:93.1px;font-size:5.6px;color:#595959;transform:scaleX(0.8926)">70%</span>
<span class="t ct" style="left:598.5px;top:193.6px;font-size:5.8px;color:#595959;transform:scaleX(0.9576)">Reading Stories</span>
<span class="t ct" style="left:644.5px;top:193.6px;font-size:5.8px;color:#595959;transform:scaleX(0.9944)">Art &amp; Crafts</span>
<span class="t ct" style="left:680.9px;top:193.6px;font-size:5.8px;color:#595959;transform:scaleX(0.9641)">Playing Games</span>
<span class="t ct" style="left:729.0px;top:193.6px;font-size:5.8px;color:#595959;transform:scaleX(0.9264)">Singing &amp;</span>
<span class="t ct" style="left:764.3px;top:193.6px;font-size:5.8px;color:#595959;transform:scaleX(0.9987)">Outdoor Play</span>
<span class="t ct" style="left:733.8px;top:201.2px;font-size:5.8px;color:#595959;transform:scaleX(0.9445)">Music</span>
<span class="t ct" style="left:629.6px;top:214.2px;font-size:5.8px;color:#595959;transform:scaleX(0.9457)">Sharing</span>
<span class="t ct" style="left:662.1px;top:214.2px;font-size:5.8px;color:#595959;transform:scaleX(0.9886)">Taking Turns</span>
<span class="t ct" style="left:708.1px;top:214.2px;font-size:5.8px;color:#595959;transform:scaleX(0.9844)">Asking for Help</span>
<span class="t ct" style="left:875.1px;top:64.2px;font-size:8.8px;color:#595959;transform:scaleX(1.0103)">Impact on Nursery Children&#x27;s Social</span>
<span class="t ct" style="left:925.6px;top:76.4px;font-size:8.8px;color:#595959;transform:scaleX(1.0095)">Behaviour</span>
<span class="t ct" style="left:838.7px;top:187.2px;font-size:5.0px;color:#595959;transform:scaleX(0.8294)">0%</span>
<span class="t ct" style="left:836.3px;top:174.9px;font-size:5.0px;color:#595959;transform:scaleX(0.8387)">10%</span>
<span class="t ct" style="left:836.3px;top:162.6px;font-size:5.0px;color:#595959;transform:scaleX(0.8387)">20%</span>
<span class="t ct" style="left:836.3px;top:150.3px;font-size:5.0px;color:#595959;transform:scaleX(0.8387)">30%</span>
<span class="t ct" style="left:836.3px;top:138.0px;font-size:5.0px;color:#595959;transform:scaleX(0.8387)">40%</span>
<span class="t ct" style="left:836.3px;top:125.7px;font-size:5.0px;color:#595959;transform:scaleX(0.8387)">50%</span>
<span class="t ct" style="left:836.3px;top:113.4px;font-size:5.0px;color:#595959;transform:scaleX(0.8387)">60%</span>
<span class="t ct" style="left:836.3px;top:101.1px;font-size:5.0px;color:#595959;transform:scaleX(0.8387)">70%</span>
<span class="t ct" style="left:860.9px;top:194.7px;font-size:5.6px;color:#595959;transform:scaleX(1.0031)">No Change</span>
<span class="t ct" style="left:917.8px;top:194.7px;font-size:5.6px;color:#595959;transform:scaleX(1.0643)">Minor</span>
<span class="t ct" style="left:907.6px;top:202.8px;font-size:5.6px;color:#595959;transform:scaleX(1.0779)">Improvement</span>
<span class="t ct" style="left:962.4px;top:194.7px;font-size:5.6px;color:#595959;transform:scaleX(1.0871)">Moderate</span>
<span class="t ct" style="left:957.7px;top:202.8px;font-size:5.6px;color:#595959;transform:scaleX(1.0779)">Improvement</span>
<span class="t ct" style="left:1012.5px;top:194.7px;font-size:5.6px;color:#595959;transform:scaleX(1.0150)">Significant</span>
<span class="t ct" style="left:1008.0px;top:202.8px;font-size:5.6px;color:#595959;transform:scaleX(1.0779)">Improvement</span>
<span class="t ct" style="left:600.3px;top:258.6px;font-size:11.2px;color:#595959;transform:scaleX(0.8963)">Engagement Levels of Nursery Children</span>
<span class="t ct" style="left:612.4px;top:272.6px;font-size:11.2px;color:#595959;transform:scaleX(0.8921)">Percentage of Year 6 Students (%)</span>
<span class="t ct" style="left:606.6px;top:394.1px;font-size:7px;color:#595959;transform:scaleX(0.9149)">Very Engaged &amp; Enthusiastic</span>
<span class="t ct" style="left:697.6px;top:394.1px;font-size:7px;color:#595959;transform:scaleX(0.9009)">Generally Engaged</span>
<span class="t ct" style="left:606.6px;top:407.8px;font-size:7px;color:#595959;transform:scaleX(1.0027)">Indifferent</span>
<span class="t ct" style="left:697.6px;top:407.8px;font-size:7px;color:#595959;transform:scaleX(0.9579)">Often Disinterested</span>
<span class="t ct" style="left:856.3px;top:258.6px;font-size:11.2px;color:#595959;transform:scaleX(0.9031)">Improvements in Social Skills (Before and</span>
<span class="t ct" style="left:900.9px;top:272.6px;font-size:11.2px;color:#595959;transform:scaleX(0.8825)">After Year 6 Sessions)</span>
<span class="t ct" style="left:830.4px;top:383.4px;font-size:6.4px;color:#595959;transform:scaleX(1.0162)">0%</span>
<span class="t ct" style="left:826.6px;top:370.2px;font-size:6.4px;color:#595959;transform:scaleX(1.0315)">10%</span>
<span class="t ct" style="left:826.6px;top:357.1px;font-size:6.4px;color:#595959;transform:scaleX(1.0315)">20%</span>
<span class="t ct" style="left:826.6px;top:344.0px;font-size:6.4px;color:#595959;transform:scaleX(1.0315)">30%</span>
<span class="t ct" style="left:826.6px;top:330.9px;font-size:6.4px;color:#595959;transform:scaleX(1.0315)">40%</span>
<span class="t ct" style="left:826.6px;top:317.7px;font-size:6.4px;color:#595959;transform:scaleX(1.0315)">50%</span>
<span class="t ct" style="left:826.6px;top:304.6px;font-size:6.4px;color:#595959;transform:scaleX(1.0315)">60%</span>
<span class="t ct" style="left:826.6px;top:291.5px;font-size:6.4px;color:#595959;transform:scaleX(1.0315)">70%</span>
<span class="t ct" style="left:872.2px;top:392.5px;font-size:7px;color:#595959;transform:scaleX(0.9279)">Sharing</span>
<span class="t ct" style="left:941.5px;top:392.5px;font-size:7px;color:#595959;transform:scaleX(0.9363)">Group Play</span>
<span class="t ct" style="left:1004.9px;top:392.5px;font-size:7px;color:#595959;transform:scaleX(0.9490)">Conflict Resolution</span>
<span class="t ct" style="left:919.9px;top:407.9px;font-size:7px;color:#595959;transform:scaleX(0.9113)">Before (%)</span>
<span class="t ct" style="left:963.3px;top:407.9px;font-size:7px;color:#595959;transform:scaleX(0.9520)">After (%)</span>
</body></html>
